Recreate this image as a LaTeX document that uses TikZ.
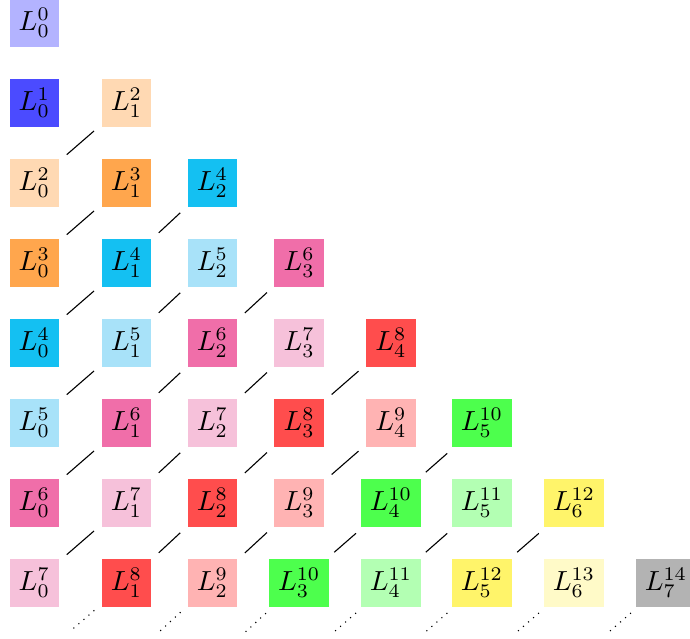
\documentclass[tikz,border=0pt]{standalone}
\usetikzlibrary{calc}
\definecolor{c0}{HTML}{B3B3FF}
\definecolor{c1}{HTML}{4B4BFF}
\definecolor{c2}{HTML}{FFD9B3}
\definecolor{c3}{HTML}{FFA64D}
\definecolor{c4}{HTML}{14C0F2}
\definecolor{c5}{HTML}{A8E2F9}
\definecolor{c6}{HTML}{F06EA9}
\definecolor{c7}{HTML}{F6C1DA}
\definecolor{c8}{HTML}{FF4D4D}
\definecolor{c9}{HTML}{FFB3B3}
\definecolor{c10}{HTML}{4DFF4D}
\definecolor{c11}{HTML}{B3FFB3}
\definecolor{c12}{HTML}{FFF46A}
\definecolor{c13}{HTML}{FFFAC8}
\definecolor{c14}{HTML}{B3B3B3}
\begin{document}
\begin{tikzpicture}[x=0.3623pt,y=-0.3623pt,
  box/.style={inner sep=0.3333em, outer sep=0pt},
  link/.style={shorten <=3.7pt, shorten >=3.7pt},
  tail/.style={dotted, shorten <=3.5pt}]
\useasboundingbox (0,0) rectangle (690,639);
\def\colx{{34.3,126.5,212.5,299.2,391,482,574,666}}
\foreach \r in {0,...,7}{
  \foreach \j in {0,...,\r}{
    \pgfmathtruncatemacro\s{\r+\j}
    \pgfmathsetmacro\xx{\colx[\j]}
    \pgfmathsetmacro\yy{22.8+80*\r}
    \node[box, fill=c\s] (n\r\j) at (\xx,\yy) {$L_{\j}^{\s}$};
  }
}
\foreach \r in {1,...,6}{
  \pgfmathtruncatemacro\rr{\r+1}
  \pgfmathtruncatemacro\rm{\r-1}
  \foreach \j in {0,...,\rm}{
    \pgfmathtruncatemacro\jj{\j+1}
    \draw[link] (n\rr\j) -- (n\r\jj);
  }
}
\foreach \j in {1,...,7}{
  \pgfmathtruncatemacro\jm{\j-1}
  \pgfmathsetmacro\xe{\colx[\jm]}
  \coordinate (e\j) at ($(n7\j)!0.62!(\xe,662)$);
  \draw[tail] (n7\j) -- (e\j);
}
\end{tikzpicture}
\end{document}
